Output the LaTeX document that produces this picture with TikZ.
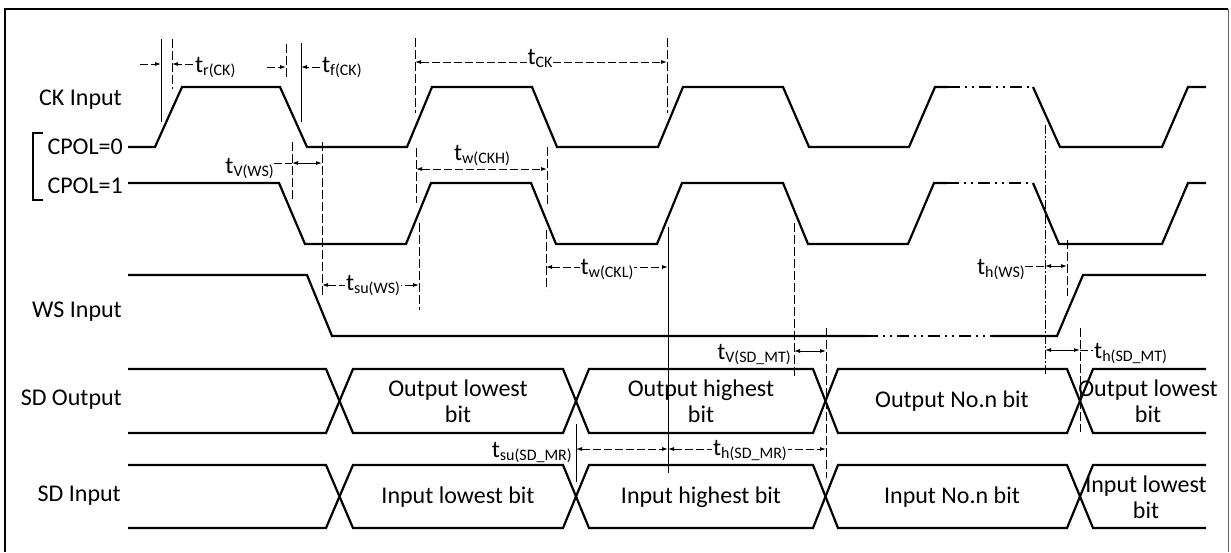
\documentclass[tikz,border=0pt]{standalone}
\usepackage{fontspec}
\setmainfont{Carlito}
\usetikzlibrary{arrows.meta}
\newcommand{\tlab}[1]{t\raisebox{-3.5pt}{\fontsize{16}{16}\selectfont #1}}

\begin{document}
\begin{tikzpicture}[x=1pt,y=-1pt,
	sig/.style={line width=2.2pt},
	dashdots/.style={dash pattern=on 12pt off 5pt on 2pt off 5pt on 2pt off 5pt},
	guide/.style={line width=0.9pt,dash pattern=on 9pt off 3pt},
	thin/.style={line width=0.9pt},
	dimlead/.style={line width=0.9pt,dash pattern=on 8pt off 3pt},
	both/.style={{Latex[length=6pt,width=4pt]}-{Latex[length=6pt,width=4pt]}},
	tip/.style={-{Latex[length=6pt,width=4pt]}},
	lbl/.style={font=\fontsize{24}{26}\selectfont,inner sep=0pt},
	onlbl/.style={lbl,anchor=base,fill=white,inner sep=1pt}]

\useasboundingbox (0,0) rectangle (1231,552);
\draw[line width=1.6pt] (5,552) -- (5,9) -- (1228,9);
\draw[line width=1pt,black!60] (1228,9) -- (1228,552);
\draw[line width=1.6pt] (43,133) -- (33,133) -- (33,200) -- (43,200);

\node[lbl,anchor=base east] (ck) at (122,105) {CK Input};
\node[lbl,anchor=base east] (cpol0) at (123,154) {CPOL=0};
\node[lbl,anchor=base east] (cpol1) at (123,193) {CPOL=1};
\node[lbl,anchor=base east] (ws) at (122,317) {WS Input};
\node[lbl,anchor=base east] (sdo) at (122,405) {SD Output};
\node[lbl,anchor=base east] (sdi) at (121,501) {SD Input};

\draw[sig] (128,147) -- (155,147) -- (182,87) -- (280,87) -- (307,147) -- (407,147) -- (432,87) -- (532,87)
	-- (557,147) -- (658,147) -- (683,87) -- (783,87) -- (809,147) -- (909,147) -- (935,87) -- (948,87);
\draw[sig,dashdots] (948,87) -- (1033,87);
\draw[sig] (1033,87) -- (1060,147) -- (1162,147) -- (1188,87) -- (1206,87);

\draw[sig] (128,183) -- (279,183) -- (305,244) -- (406,244) -- (431,183) -- (531,183) -- (556,244) -- (657,244)
	-- (682,183) -- (783,183) -- (808,244) -- (908,244) -- (934,183) -- (947,183);
\draw[sig,dashdots] (947,183) -- (1033,183);
\draw[sig] (1033,183) -- (1059,244) -- (1162,244) -- (1188,183) -- (1206,183);

\draw[sig] (128,275) -- (307,275) -- (332,336) -- (866,336);
\draw[sig,dashdots] (866,336) -- (993,336);
\draw[sig] (993,336) -- (1057,336) -- (1083,275) -- (1206,275);

\draw[sig] (128,369) -- (326,369) -- (353,433) -- (563,433) -- (589,369) -- (813,369) -- (838,433) -- (1067,433) -- (1093,369) -- (1206,369);
\draw[sig] (128,433) -- (326,433) -- (353,369) -- (563,369) -- (589,433) -- (813,433) -- (838,369) -- (1067,369) -- (1093,433) -- (1206,433);
\draw[sig] (128,465) -- (326,465) -- (353,528) -- (563,528) -- (589,465) -- (813,465) -- (838,528) -- (1067,528) -- (1093,465) -- (1206,465);
\draw[sig] (128,528) -- (326,528) -- (353,465) -- (563,465) -- (589,528) -- (813,528) -- (838,465) -- (1067,465) -- (1093,528) -- (1206,528);

\node[lbl,align=center] (olow) at (458,401) {Output lowest\\bit};
\node[lbl,align=center] (ohigh) at (701,401) {Output highest\\bit};
\node[lbl] (onth) at (952,401) {Output No.n bit};
\node[lbl,align=center] (olow2) at (1148,401) {Output lowest\\bit};
\node[lbl] (ilow) at (458,497) {Input lowest bit};
\node[lbl] (ihigh) at (701,497) {Input highest bit};
\node[lbl] (inth) at (952,497) {Input No.n bit};
\node[lbl,align=center] (ilow2) at (1146,497) {Input lowest\\bit};

\draw[thin] (161,39) -- (161,122) (301,43) -- (301,122) (668,227) -- (668,473) (576,424) -- (576,482);
\draw[guide] (172,39) -- (172,89) (286,44) -- (286,78)
	(415,38) -- (415,113) (667,38) -- (667,113)
	(416,148) -- (416,203) (547,147) -- (547,207)
	(292,142) -- (292,200) (322,142) -- (322,297) (419,223) -- (419,310)
	(546,230) -- (546,290) (794,223) -- (794,377) (826,328) -- (826,478)
	(1067,240) -- (1067,296) (1080,328) -- (1080,432);
\draw[thin,dash pattern=on 9pt off 2pt on 2pt off 2pt] (1045,125) -- (1045,375);

\draw[dimlead,tip] (140,64) -- (161,64);
\draw[dimlead,tip] (193,64) -- (172,64);
\draw[dimlead,tip] (267,67) -- (286,67);
\draw[dimlead,tip] (320,67) -- (301,67);
\draw[dimlead,both] (415,62) -- (667,62);
\draw[dimlead,both] (416,169) -- (547,169);
\draw[dimlead,both] (546,267) -- (668,267);
\draw[dimlead] (274,163) -- (292,163);
\draw[thin,both] (292,163) -- (322,163);
\draw[dimlead,both] (322,285) -- (419,285);
\draw[dimlead] (1025,266) -- (1045,266);
\draw[thin,both] (1045,266) -- (1067,266);
\draw[thin,both] (794,351) -- (826,351);
\draw[thin,both] (1045,350) -- (1080,350);
\draw[dimlead] (1080,350) -- (1093,350);
\draw[dimlead,both] (576,449) -- (668,449);
\draw[dimlead,both] (668,449) -- (826,449);

\node[lbl,anchor=base west] (tr) at (195,72) {\tlab{r(CK)}};
\node[lbl,anchor=base west] (tf) at (322,72) {\tlab{f(CK)}};
\node[onlbl] (tck) at (540,64) {\tlab{CK}};
\node[lbl,anchor=base] (twh) at (482,160) {\tlab{w(CKH)}};
\node[onlbl] (twl) at (607,274) {\tlab{w(CKL)}};
\node[lbl,anchor=base east] (tvws) at (274,173) {\tlab{V(WS)}};
\node[onlbl] (tsuws) at (373,290) {\tlab{su(WS)}};
\node[lbl,anchor=base east] (thws) at (1025,274) {\tlab{h(WS)}};
\node[lbl,anchor=base east] (tvsd) at (791,359) {\tlab{V(SD\_MT)}};
\node[lbl,anchor=base west] (thsd) at (1094,358) {\tlab{h(SD\_MT)}};
\node[lbl,anchor=base east] (tsusd) at (572,457) {\tlab{su(SD\_MR)}};
\node[onlbl] (thsr) at (750,455) {\tlab{h(SD\_MR)}};

\end{tikzpicture}
\end{document}
